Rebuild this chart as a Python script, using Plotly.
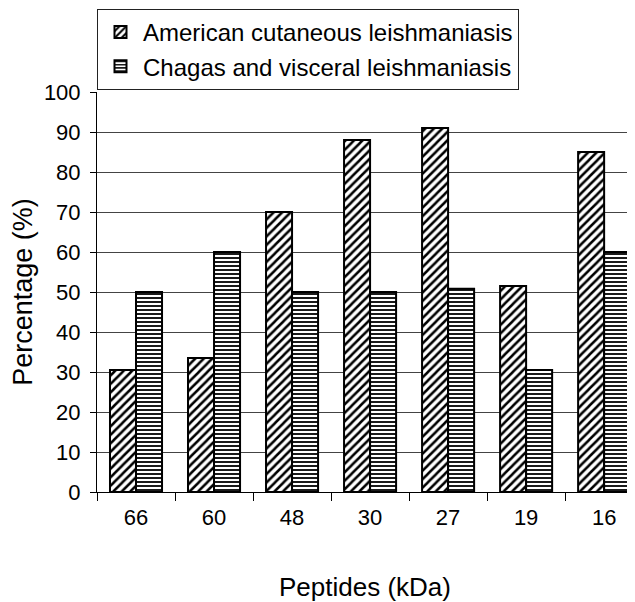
import plotly.graph_objects as go

categories = ["66", "60", "48", "30", "27", "19", "16"]
acl_values = [30.5, 33.5, 70, 88, 91, 51.5, 85]
chagas_values = [50, 60, 50, 50, 50.8, 30.5, 60]
series_names = ["American cutaneous leishmaniasis", "Chagas and visceral leishmaniasis"]
y_ticks = [0, 10, 20, 30, 40, 50, 60, 70, 80, 90, 100]

FONT = "Liberation Sans, Arial, sans-serif"

fig = go.Figure()
fig.add_trace(go.Bar(
    x=categories, y=acl_values, name=series_names[0],
    marker=dict(color="white",
                line=dict(color="black", width=2),
                pattern=dict(shape="/", fgcolor="black", bgcolor="white",
                             size=6, solidity=0.42, fillmode="overlay", fgopacity=1)),
))
fig.add_trace(go.Bar(
    x=categories, y=chagas_values, name=series_names[1],
    marker=dict(color="white",
                line=dict(color="black", width=2),
                pattern=dict(shape="-", fgcolor="black", bgcolor="white",
                             size=4, solidity=0.45, fillmode="overlay", fgopacity=1)),
))

# page body has an 8px margin in the browser; compensate so the visible frame matches
fig.update_layout(
    width=635, height=602,
    margin=dict(l=89, r=10, t=84, b=118, autoexpand=False),
    paper_bgcolor="white", plot_bgcolor="white",
    barmode="group", bargap=0.333, bargroupgap=0,
    font=dict(family=FONT, color="black", size=22),
    showlegend=True,
    legend=dict(
        x=0, y=1.2075, xanchor="left", yanchor="top",
        bordercolor="#222", borderwidth=1, bgcolor="white",
        font=dict(size=24, family=FONT),
        itemwidth=35, tracegroupgap=0,
        entrywidth=420, entrywidthmode="pixels",
    ),
    xaxis=dict(
        type="category", range=[-0.5, 6.37], automargin=True,
        showline=True, linecolor="black", linewidth=1,
        ticks="outside", tickson="boundaries", ticklen=8, tickcolor="black",
        ticklabelstandoff=6,
        tickfont=dict(size=22, family=FONT),
        title=dict(text="Peptides (kDa)", font=dict(size=26, family=FONT), standoff=48),
        showgrid=False,
    ),
    yaxis=dict(
        range=[0, 100], tickvals=y_ticks, automargin=False,
        showline=True, linecolor="black", linewidth=1,
        ticks="outside", ticklen=6, tickcolor="black",
        ticklabelstandoff=5,
        tickfont=dict(size=22, family=FONT),
        showgrid=True, gridcolor="#444", gridwidth=1,
        zeroline=False,
        title=dict(text="Percentage (%)", font=dict(size=27, family=FONT)),
    ),
)

fig.write_html("out.html")
